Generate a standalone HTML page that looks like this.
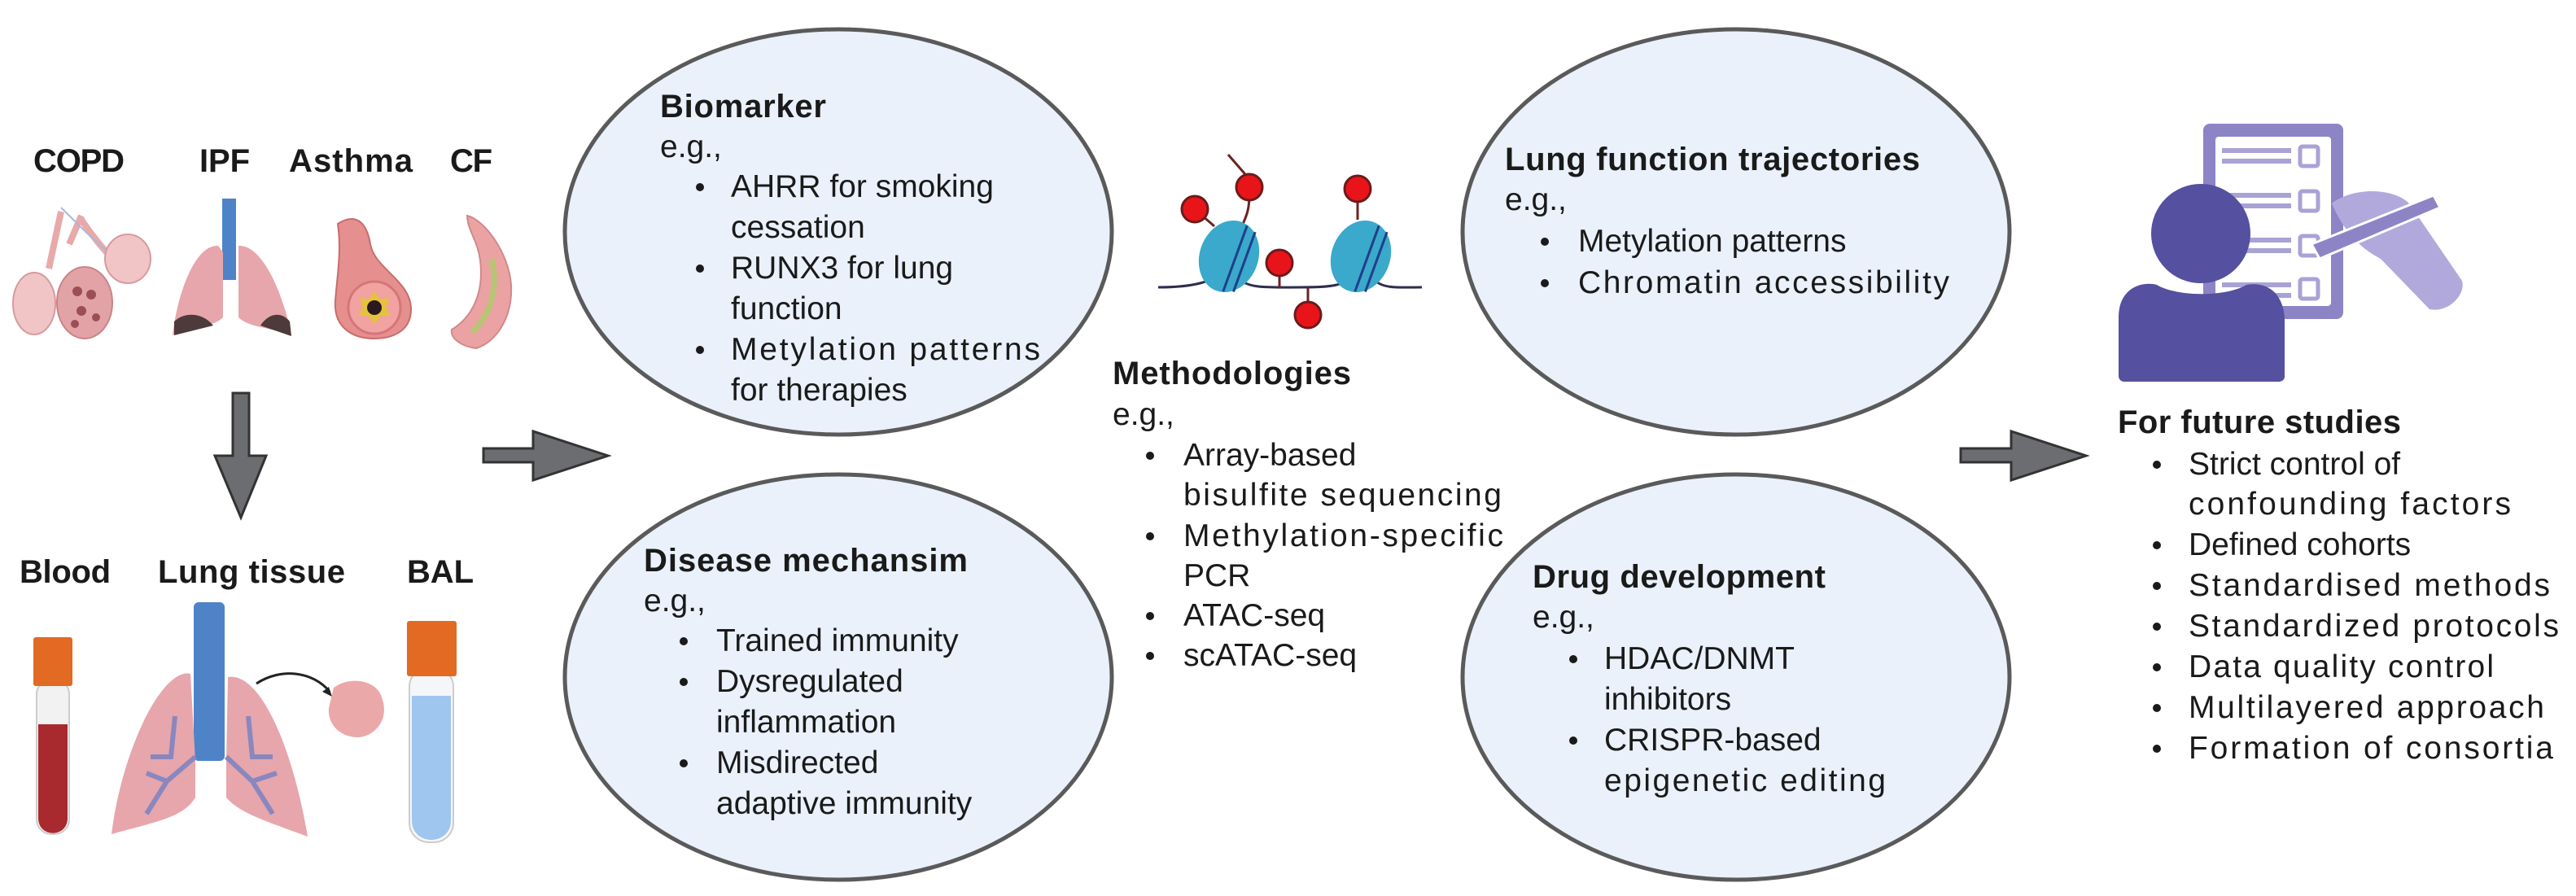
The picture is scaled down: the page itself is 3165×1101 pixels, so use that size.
<!DOCTYPE html>
<html><head><meta charset="utf-8"><style>
html,body{margin:0;padding:0;background:#fff;}
svg{display:block;}
text{font-family:"Liberation Sans",Arial,sans-serif;fill:#1a1a1a;}
.t{font-weight:bold;font-size:40px;}
.b{font-size:39px;}
</style></head><body>
<svg width="3165" height="1101" viewBox="0 0 3165 1101" xmlns="http://www.w3.org/2000/svg">
<rect width="3165" height="1101" fill="#fff"/>

<g fill="#eaf1fb" stroke="#5a5a5a" stroke-width="5">
<ellipse cx="1030" cy="285" rx="336" ry="249"/>
<ellipse cx="1030" cy="832" rx="336" ry="249"/>
<ellipse cx="2133" cy="285" rx="336" ry="249"/>
<ellipse cx="2133" cy="832" rx="336" ry="249"/>
</g>

<g fill="#6b6d70" stroke="#333" stroke-width="3" stroke-linejoin="miter">
<polygon points="286,483 306,483 306,560 327,560 296,636 264,560 286,560"/>
<polygon points="594,551 655,551 655,530 747,560 655,590 655,568 594,568"/>
<polygon points="2409,551 2471,551 2471,530 2563,560 2471,590 2471,568 2409,568"/>
</g>

<g>
<text x="41" y="211" class="t" textLength="112">COPD</text>
<text x="245" y="211" class="t" textLength="62">IPF</text>
<text x="355" y="211" class="t" textLength="152">Asthma</text>
<text x="553" y="211" class="t" textLength="52">CF</text>
<text x="24" y="716" class="t" textLength="112">Blood</text>
<text x="194" y="716" class="t" textLength="230">Lung tissue</text>
<text x="500" y="716" class="t" textLength="82">BAL</text>
</g>

<g>
 <path d="M60,330 L75,260 M85,300 L100,265 M100,270 C120,300 140,320 150,330" stroke="#e8a9a9" stroke-width="8" fill="none"/>
 <path d="M75,255 C100,280 120,300 140,315" stroke="#a8b8de" stroke-width="2" fill="none"/>
 <ellipse cx="42" cy="373" rx="26" ry="38" fill="#f1c4c6" stroke="#d79a9e" stroke-width="2"/>
 <ellipse cx="104" cy="372" rx="34" ry="44" fill="#e2a3a6" stroke="#c98488" stroke-width="2"/>
 <g fill="#9c4e56"><circle cx="95" cy="358" r="6"/><circle cx="112" cy="362" r="6"/><circle cx="100" cy="382" r="6"/><circle cx="118" cy="390" r="5"/><circle cx="92" cy="398" r="5"/></g>
 <ellipse cx="157" cy="318" rx="28" ry="30" fill="#f1c4c6" stroke="#d79a9e" stroke-width="2"/>
 <rect x="273" y="244" width="17" height="100" fill="#4f83c7"/>
 <path d="M268,302 C240,300 218,360 212,412 C240,400 262,402 274,390 L274,310 Z" fill="#e6a6ac"/>
 <path d="M293,302 C322,300 348,360 358,412 C330,402 305,402 293,390 L293,310 Z" fill="#e6a6ac"/>
 <path d="M214,395 C228,382 250,385 262,400 L214,412 Z" fill="#4d3a3b"/>
 <path d="M356,395 C345,382 330,385 320,400 L358,413 Z" fill="#4d3a3b"/>
 <path d="M415,275 C435,262 450,270 455,300 C460,330 505,345 505,380 C505,405 485,416 460,416 C430,416 410,400 412,370 C414,340 420,310 415,275 Z" fill="#e58f8f" stroke="#c76c6e" stroke-width="2"/>
 <circle cx="460" cy="378" r="32" fill="#f0a3a0" stroke="#d5767a" stroke-width="3"/>
 <polygon points="460,358 467,368 478,366 474,378 480,388 468,388 460,398 452,388 440,388 446,378 442,366 453,368" fill="#e5c33a"/>
 <circle cx="460" cy="378" r="9" fill="#2a1a1e"/>
 <path d="M574,265 C595,270 625,310 628,350 C630,390 610,420 585,428 C565,425 553,415 555,405 C580,390 595,360 590,320 C587,295 575,285 574,265 Z" fill="#eaa2a2" stroke="#d2888a" stroke-width="2"/>
 <path d="M604,318 C612,350 605,385 580,408" stroke="#b7c474" stroke-width="7" fill="none"/>
</g>

<g>
 <rect x="45" y="835" width="40" height="190" rx="18" fill="#f2f2f2" stroke="#ccc" stroke-width="2"/>
 <path d="M47,890 L83,890 L83,1005 C83,1030 47,1030 47,1005 Z" fill="#a8292e"/>
 <rect x="41" y="783" width="48" height="60" rx="3" fill="#e26a23"/>
 <rect x="238" y="740" width="38" height="195" rx="6" fill="#4f83c7"/>
 <path d="M234,828 C200,820 150,920 137,1025 C190,1010 225,1005 240,980 L240,935 Z" fill="#e6a6ac"/>
 <path d="M280,832 C320,825 360,920 378,1028 C330,1010 295,1000 278,980 L278,935 Z" fill="#e6a6ac"/>
 <g stroke="#8a87bf" stroke-width="6" fill="none">
  <path d="M240,930 L205,960 L180,1000 M205,960 L180,950 M215,880 L210,930 L185,930"/>
  <path d="M278,930 L310,960 L335,1000 M310,960 L340,950 M305,880 L310,930 L335,930"/>
 </g>
 <path d="M315,840 C345,820 385,825 405,850" stroke="#222" stroke-width="3" fill="none"/>
 <polygon points="408,856 396,850 404,844" fill="#222"/>
 <path d="M410,845 C430,830 465,835 470,860 C478,885 460,905 440,906 C418,906 402,890 404,870 Z" fill="#eaa9a8"/>
 <rect x="503" y="820" width="54" height="215" rx="24" fill="#f4f6fa" stroke="#ccc" stroke-width="2"/>
 <path d="M506,855 L554,855 L554,1008 C554,1040 506,1040 506,1008 Z" fill="#9ec6ee"/>
 <rect x="500" y="763" width="61" height="68" rx="3" fill="#e26a23"/>
</g>

<g>
 <path d="M1423,353 C1470,353 1490,345 1500,335 M1523,343 C1535,355 1560,353 1600,353 C1640,353 1650,350 1660,340 M1690,345 C1700,355 1720,353 1747,353" stroke="#2e2d4e" stroke-width="3" fill="none"/>
 <line x1="1509" y1="190" x2="1535" y2="220" stroke="#6b2323" stroke-width="3"/>
 <path d="M1535,240 C1535,260 1530,268 1525,280" stroke="#6b2323" stroke-width="3" fill="none"/>
 <line x1="1468" y1="257" x2="1492" y2="278" stroke="#6b2323" stroke-width="3"/>
 <line x1="1668" y1="232" x2="1668" y2="270" stroke="#6b2323" stroke-width="3"/>
 <line x1="1572" y1="323" x2="1572" y2="353" stroke="#6b2323" stroke-width="3"/>
 <line x1="1607" y1="353" x2="1607" y2="387" stroke="#6b2323" stroke-width="3"/>
 <g transform="rotate(20 1510 315)"><ellipse cx="1510" cy="315" rx="36" ry="45" fill="#3aa9cb"/><path d="M1518,272 L1518,358 M1530,276 L1530,354" stroke="#1f3f8a" stroke-width="3"/></g>
 <g transform="rotate(20 1672 315)"><ellipse cx="1672" cy="315" rx="36" ry="45" fill="#3aa9cb"/><path d="M1680,272 L1680,358 M1692,276 L1692,354" stroke="#1f3f8a" stroke-width="3"/></g>
 <g fill="#e8141a" stroke="#6b1b1b" stroke-width="3">
  <circle cx="1468" cy="257" r="16"/><circle cx="1535" cy="230" r="16"/><circle cx="1572" cy="323" r="16"/><circle cx="1607" cy="387" r="16"/><circle cx="1668" cy="232" r="16"/>
 </g>
</g>

<g>
 <rect x="2707" y="152" width="172" height="240" rx="8" fill="#8d84c6"/>
 <rect x="2722" y="168" width="142" height="208" rx="4" fill="#fff"/>
 <g stroke="#a9a2d6" stroke-width="6">
  <line x1="2730" y1="185" x2="2815" y2="185"/><line x1="2730" y1="198" x2="2815" y2="198"/>
  <line x1="2730" y1="240" x2="2815" y2="240"/><line x1="2730" y1="253" x2="2815" y2="253"/>
  <line x1="2730" y1="295" x2="2815" y2="295"/><line x1="2730" y1="308" x2="2815" y2="308"/>
  <line x1="2730" y1="350" x2="2815" y2="350"/><line x1="2730" y1="363" x2="2815" y2="363"/>
 </g>
 <g fill="none" stroke="#a9a2d6" stroke-width="5">
  <rect x="2826" y="180" width="22" height="24" rx="3"/><rect x="2826" y="235" width="22" height="24" rx="3"/>
  <rect x="2826" y="290" width="22" height="24" rx="3"/><rect x="2826" y="343" width="22" height="24" rx="3"/>
 </g>
 <path d="M2865,250 C2890,230 2940,230 2960,250 L3025,345 C3030,360 3010,385 2985,380 L2925,318 C2900,305 2880,285 2865,250 Z" fill="#b1a9dc"/>
 <path d="M2840,300 L2990,240 L2998,255 L2850,318 Z" fill="#8d84c6" stroke="#fff" stroke-width="3"/>
 <circle cx="2704" cy="287" r="61" fill="#55509f"/>
 <path d="M2603,390 C2603,355 2630,345 2650,350 C2675,365 2735,365 2760,350 C2790,345 2807,365 2807,395 L2807,463 C2807,467 2803,469 2800,469 L2610,469 C2606,469 2603,466 2603,462 Z" fill="#55509f"/>
</g>

<text x="811" y="144" class="t" textLength="204">Biomarker</text>
<text x="811" y="193" class="b">e.g.,</text>
<g class="b">
<circle cx="860" cy="230" r="5" fill="#1a1a1a"/><text x="898" y="242">AHRR for smoking</text>
<text x="898" y="292">cessation</text>
<circle cx="860" cy="330" r="5" fill="#1a1a1a"/><text x="898" y="342">RUNX3 for lung</text>
<text x="898" y="392">function</text>
<circle cx="860" cy="430" r="5" fill="#1a1a1a"/><text x="898" y="442" textLength="380">Metylation patterns</text>
<text x="898" y="492">for therapies</text>
</g>

<text x="791" y="702" class="t" textLength="398">Disease mechansim</text>
<text x="791" y="751" class="b">e.g.,</text>
<g class="b">
<circle cx="840" cy="788" r="5" fill="#1a1a1a"/><text x="880" y="800">Trained immunity</text>
<circle cx="840" cy="838" r="5" fill="#1a1a1a"/><text x="880" y="850">Dysregulated</text>
<text x="880" y="900">inflammation</text>
<circle cx="840" cy="938" r="5" fill="#1a1a1a"/><text x="880" y="950">Misdirected</text>
<text x="880" y="1000">adaptive immunity</text>
</g>

<text x="1367" y="472" class="t" textLength="293">Methodologies</text>
<text x="1367" y="522" class="b">e.g.,</text>
<g class="b">
<circle cx="1413" cy="560" r="5" fill="#1a1a1a"/><text x="1454" y="572">Array-based</text>
<text x="1454" y="621" textLength="391">bisulfite sequencing</text>
<circle cx="1413" cy="659" r="5" fill="#1a1a1a"/><text x="1454" y="671" textLength="393">Methylation-specific</text>
<text x="1454" y="720">PCR</text>
<circle cx="1413" cy="757" r="5" fill="#1a1a1a"/><text x="1454" y="769">ATAC-seq</text>
<circle cx="1413" cy="806" r="5" fill="#1a1a1a"/><text x="1454" y="818">scATAC-seq</text>
</g>

<text x="1849" y="209" class="t" textLength="510">Lung function trajectories</text>
<text x="1849" y="258" class="b">e.g.,</text>
<g class="b">
<circle cx="1898" cy="297" r="5" fill="#1a1a1a"/><text x="1939" y="309">Metylation patterns</text>
<circle cx="1898" cy="348" r="5" fill="#1a1a1a"/><text x="1939" y="360" textLength="456">Chromatin accessibility</text>
</g>

<text x="1883" y="722" class="t" textLength="360">Drug development</text>
<text x="1883" y="771" class="b">e.g.,</text>
<g class="b">
<circle cx="1933" cy="810" r="5" fill="#1a1a1a"/><text x="1971" y="822">HDAC/DNMT</text>
<text x="1971" y="872">inhibitors</text>
<circle cx="1933" cy="910" r="5" fill="#1a1a1a"/><text x="1971" y="922">CRISPR-based</text>
<text x="1971" y="972" textLength="346">epigenetic editing</text>
</g>

<text x="2602" y="532" class="t" textLength="348">For future studies</text>
<g class="b">
<circle cx="2650" cy="571" r="5" fill="#1a1a1a"/><text x="2689" y="583">Strict control of</text>
<text x="2689" y="632" textLength="396">confounding factors</text>
<circle cx="2650" cy="670" r="5" fill="#1a1a1a"/><text x="2689" y="682">Defined cohorts</text>
<circle cx="2650" cy="720" r="5" fill="#1a1a1a"/><text x="2689" y="732" textLength="444">Standardised methods</text>
<circle cx="2650" cy="770" r="5" fill="#1a1a1a"/><text x="2689" y="782" textLength="455">Standardized protocols</text>
<circle cx="2650" cy="820" r="5" fill="#1a1a1a"/><text x="2689" y="832" textLength="375">Data quality control</text>
<circle cx="2650" cy="870" r="5" fill="#1a1a1a"/><text x="2689" y="882" textLength="437">Multilayered approach</text>
<circle cx="2650" cy="920" r="5" fill="#1a1a1a"/><text x="2689" y="932" textLength="448">Formation of consortia</text>
</g>
</svg>
</body></html>
